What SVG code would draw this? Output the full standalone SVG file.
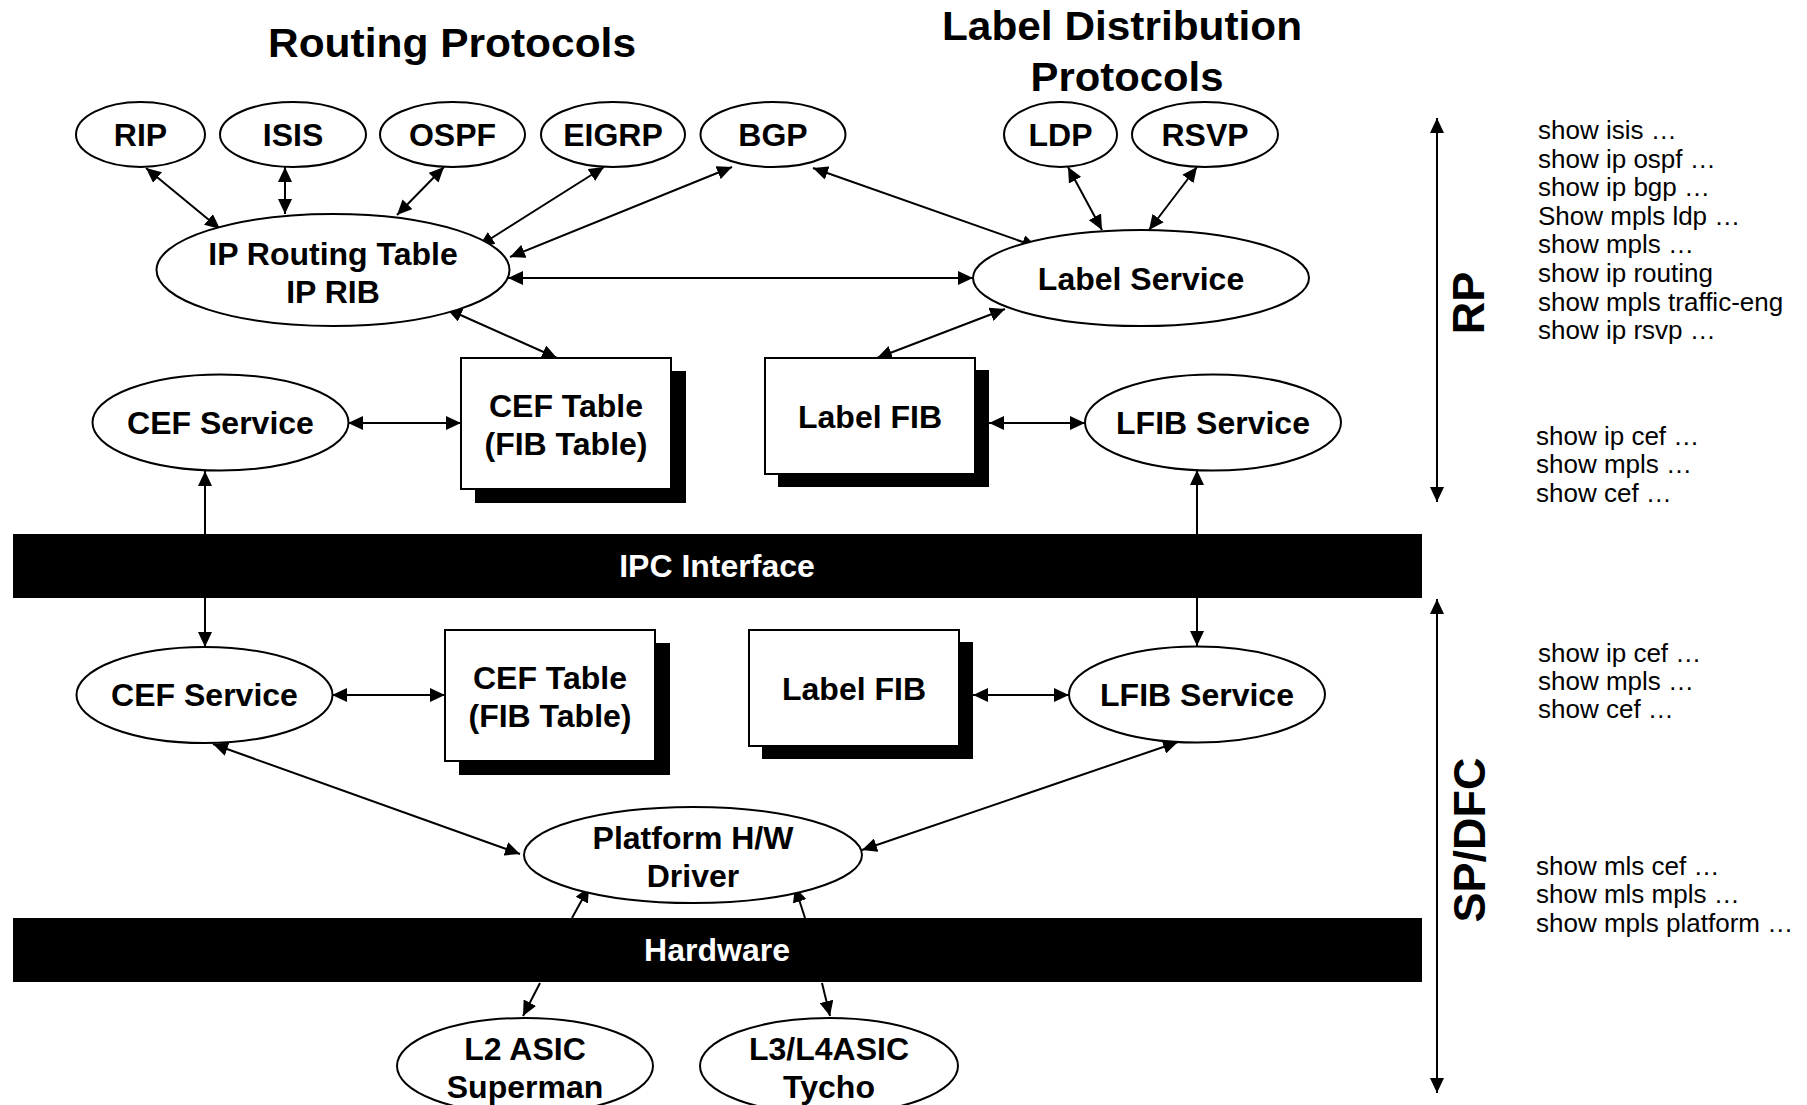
<svg xmlns="http://www.w3.org/2000/svg" width="1807" height="1105" viewBox="0 0 1807 1105">
<defs>
<marker id="ah" viewBox="0 0 15 14" refX="15" refY="7" markerWidth="15" markerHeight="14" orient="auto-start-reverse" markerUnits="userSpaceOnUse">
<path d="M0,0 L15,7 L0,14 z" fill="#000"/>
</marker>
<style>
.ell{fill:#fff;stroke:#000;stroke-width:2}
.box{fill:#fff;stroke:#000;stroke-width:2}
.shd{fill:#000}
.bar{fill:#000}
.t{font-family:"Liberation Sans",Arial,sans-serif;font-weight:bold;font-size:32px;text-anchor:middle;fill:#000}
.w{fill:#fff}
.ttl{font-family:"Liberation Sans",Arial,sans-serif;font-weight:bold;font-size:41px;text-anchor:middle;fill:#000}
.side{font-family:"Liberation Sans",Arial,sans-serif;font-weight:bold;font-size:45px;text-anchor:middle;fill:#000}
.cmd{font-family:"Liberation Sans",Arial,sans-serif;font-size:26px;fill:#000}
.c line{stroke:#000;stroke-width:2;fill:none}
.b{marker-start:url(#ah);marker-end:url(#ah)}
.e{marker-end:url(#ah)}
</style>
</defs>
<rect width="1807" height="1105" fill="#fff"/>

<g id="titles">
<text class="ttl" x="452" y="57" textLength="368" lengthAdjust="spacingAndGlyphs">Routing Protocols</text>
<text class="ttl" x="1122" y="40" textLength="360" lengthAdjust="spacingAndGlyphs">Label Distribution</text>
<text class="ttl" x="1127" y="91" textLength="193" lengthAdjust="spacingAndGlyphs">Protocols</text>
</g>

<g id="bars">
<g id="ipc"><rect class="bar" x="13" y="534" width="1409" height="64"/><text class="t w" x="717" y="577">IPC Interface</text></g>
<g id="hardware"><rect class="bar" x="13" y="918" width="1409" height="64"/><text class="t w" x="717" y="961">Hardware</text></g>
</g>

<g id="connectors" class="c">
<line class="b" x1="146" y1="168" x2="220" y2="229"/>
<line class="b" x1="285" y1="167" x2="285" y2="214"/>
<line class="b" x1="444" y1="167" x2="397" y2="215"/>
<line class="b" x1="604" y1="167" x2="479" y2="246"/>
<line class="b" x1="732" y1="167" x2="510" y2="257"/>
<line class="b" x1="813" y1="168" x2="1037" y2="247"/>
<line class="b" x1="508" y1="278" x2="973" y2="278"/>
<line class="b" x1="447" y1="309" x2="557" y2="358"/>
<line class="b" x1="1005" y1="309" x2="877" y2="358"/>
<line class="b" x1="1068" y1="167" x2="1102" y2="230"/>
<line class="b" x1="1197" y1="167" x2="1149" y2="230"/>
<line class="b" x1="348" y1="423" x2="461" y2="423"/>
<line class="b" x1="989" y1="423" x2="1085" y2="423"/>
<line class="e" x1="205" y1="534" x2="205" y2="471"/>
<line class="e" x1="205" y1="598" x2="205" y2="647"/>
<line class="e" x1="1197" y1="534" x2="1197" y2="470"/>
<line class="e" x1="1197" y1="598" x2="1197" y2="646"/>
<line class="b" x1="332" y1="695" x2="445" y2="695"/>
<line class="b" x1="973" y1="695" x2="1069" y2="695"/>
<line class="b" x1="213" y1="744" x2="520" y2="854"/>
<line class="b" x1="1178" y1="742" x2="862" y2="850"/>
<line class="e" x1="572" y1="918" x2="589" y2="887"/>
<line class="e" x1="805" y1="918" x2="795" y2="887"/>
<line class="e" x1="540" y1="983" x2="523" y2="1016"/>
<line class="e" x1="822" y1="983" x2="830" y2="1016"/>
<line class="b" x1="1437" y1="118" x2="1437" y2="502"/>
<line class="b" x1="1437" y1="599" x2="1437" y2="1093"/>
</g>

<g id="rip"><ellipse class="ell" cx="140.5" cy="134.5" rx="64.5" ry="32.5"/><text class="t" x="140.5" y="146">RIP</text></g>
<g id="isis"><ellipse class="ell" cx="293" cy="134.5" rx="73" ry="32.5"/><text class="t" x="293" y="146">ISIS</text></g>
<g id="ospf"><ellipse class="ell" cx="452.5" cy="134.5" rx="72.5" ry="32.5"/><text class="t" x="452.5" y="146">OSPF</text></g>
<g id="eigrp"><ellipse class="ell" cx="613" cy="134.5" rx="72" ry="32.5"/><text class="t" x="613" y="146">EIGRP</text></g>
<g id="bgp"><ellipse class="ell" cx="773" cy="134.5" rx="72.5" ry="32.5"/><text class="t" x="773" y="146">BGP</text></g>
<g id="ldp"><ellipse class="ell" cx="1060.5" cy="134.5" rx="56.5" ry="32.5"/><text class="t" x="1060.5" y="146">LDP</text></g>
<g id="rsvp"><ellipse class="ell" cx="1205" cy="134.5" rx="73" ry="32.5"/><text class="t" x="1205" y="146">RSVP</text></g>

<g id="ip-rib"><ellipse class="ell" cx="333" cy="270" rx="176.5" ry="56"/><text class="t" x="333" y="265">IP Routing Table</text><text class="t" x="333" y="303">IP RIB</text></g>
<g id="label-service"><ellipse class="ell" cx="1141" cy="278" rx="168" ry="48"/><text class="t" x="1141" y="290">Label Service</text></g>

<g id="cef-service-rp"><ellipse class="ell" cx="220.5" cy="422.5" rx="128" ry="48"/><text class="t" x="220.5" y="434">CEF Service</text></g>
<g id="cef-table-rp"><rect class="shd" x="475" y="371" width="211" height="132"/><rect class="box" x="461" y="358" width="210" height="131"/><text class="t" x="566" y="417">CEF Table</text><text class="t" x="566" y="455">(FIB Table)</text></g>
<g id="label-fib-rp"><rect class="shd" x="778" y="370" width="211" height="117"/><rect class="box" x="765" y="358" width="210" height="116"/><text class="t" x="870" y="428">Label FIB</text></g>
<g id="lfib-service-rp"><ellipse class="ell" cx="1213" cy="422.5" rx="128" ry="48"/><text class="t" x="1213" y="434">LFIB Service</text></g>

<g id="cef-service-sp"><ellipse class="ell" cx="204.5" cy="695" rx="128" ry="48"/><text class="t" x="204.5" y="706">CEF Service</text></g>
<g id="cef-table-sp"><rect class="shd" x="459" y="643" width="211" height="132"/><rect class="box" x="445" y="630" width="210" height="131"/><text class="t" x="550" y="689">CEF Table</text><text class="t" x="550" y="727">(FIB Table)</text></g>
<g id="label-fib-sp"><rect class="shd" x="762" y="642" width="211" height="117"/><rect class="box" x="749" y="630" width="210" height="116"/><text class="t" x="854" y="700">Label FIB</text></g>
<g id="lfib-service-sp"><ellipse class="ell" cx="1197" cy="694.5" rx="128" ry="48"/><text class="t" x="1197" y="706">LFIB Service</text></g>

<g id="platform"><ellipse class="ell" cx="693" cy="855" rx="169" ry="48"/><text class="t" x="693" y="849">Platform H/W</text><text class="t" x="693" y="887">Driver</text></g>
<g id="l2asic"><ellipse class="ell" cx="525" cy="1066" rx="128" ry="48"/><text class="t" x="525" y="1060">L2 ASIC</text><text class="t" x="525" y="1098">Superman</text></g>
<g id="l3asic"><ellipse class="ell" cx="829" cy="1066" rx="129" ry="48"/><text class="t" x="829" y="1060">L3/L4ASIC</text><text class="t" x="829" y="1098">Tycho</text></g>

<g id="side-labels">
<text class="side" transform="translate(1484,303) rotate(-90)">RP</text>
<text class="side" transform="translate(1485,840) rotate(-90)">SP/DFC</text>
</g>

<g id="commands">
<text class="cmd" x="1538" y="139">show isis …</text>
<text class="cmd" x="1538" y="168">show ip ospf …</text>
<text class="cmd" x="1538" y="196">show ip bgp …</text>
<text class="cmd" x="1538" y="225">Show mpls ldp …</text>
<text class="cmd" x="1538" y="253">show mpls …</text>
<text class="cmd" x="1538" y="282">show ip routing</text>
<text class="cmd" x="1538" y="311">show mpls traffic-eng</text>
<text class="cmd" x="1538" y="339">show ip rsvp …</text>
<text class="cmd" x="1536" y="445">show ip cef …</text>
<text class="cmd" x="1536" y="473">show mpls …</text>
<text class="cmd" x="1536" y="502">show cef …</text>
<text class="cmd" x="1538" y="662">show ip cef …</text>
<text class="cmd" x="1538" y="690">show mpls …</text>
<text class="cmd" x="1538" y="718">show cef …</text>
<text class="cmd" x="1536" y="875">show mls cef …</text>
<text class="cmd" x="1536" y="903">show mls mpls …</text>
<text class="cmd" x="1536" y="932">show mpls platform …</text>
</g>
</svg>
